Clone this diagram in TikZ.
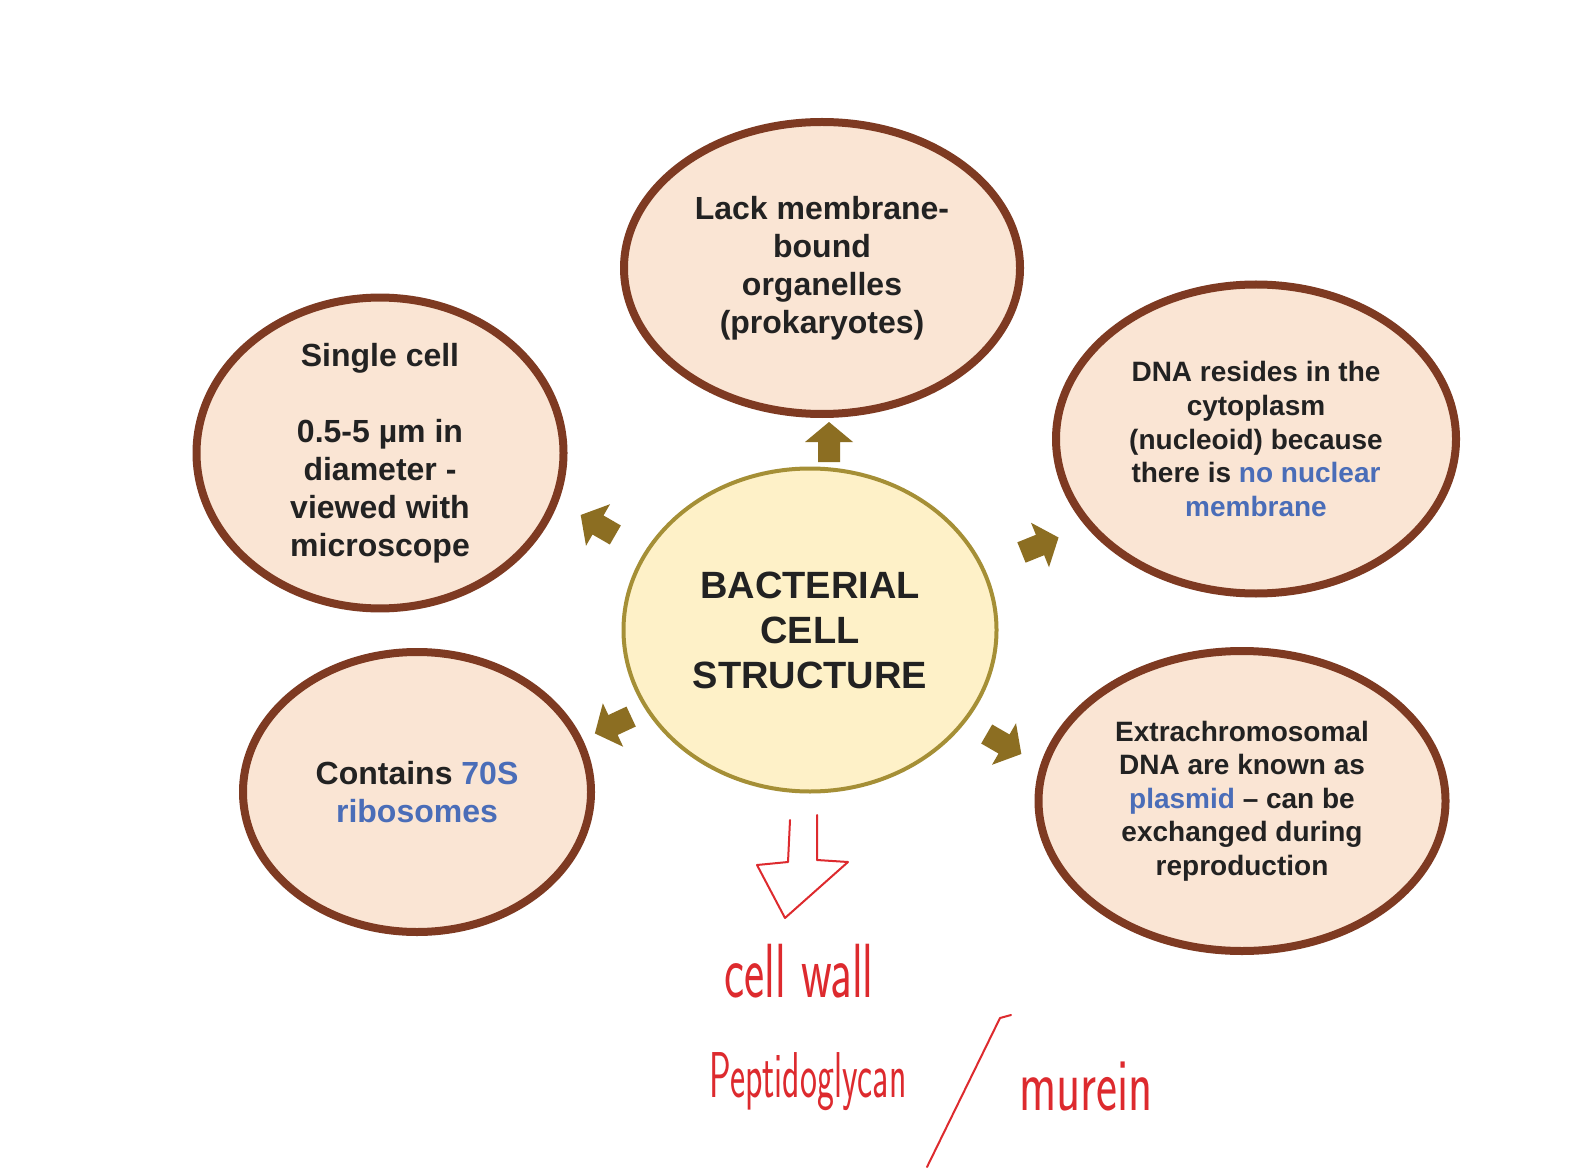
\documentclass[tikz,border=0pt]{standalone}
\usepackage{fontspec}
\setmainfont{Liberation Sans}
\usetikzlibrary{shapes.geometric}
\definecolor{peach}{HTML}{FAE5D4}
\definecolor{rim}{HTML}{7E3A22}
\definecolor{cream}{HTML}{FEF1C8}
\definecolor{olive}{HTML}{A58F36}
\definecolor{arrowc}{HTML}{8C6E22}
\definecolor{bluetxt}{HTML}{4A6DB8}
\definecolor{pen}{HTML}{DD2A2E}
\definecolor{ink}{HTML}{222222}
\newcommand{\hl}[1]{\textcolor{bluetxt}{#1}}
\begin{document}
\begin{tikzpicture}[x=0.5pt,y=-0.5pt,
  bubble/.style={ellipse, draw=rim, line width=4pt, fill=peach, inner sep=0pt,
    align=center, text=ink},
  bigtxt/.style={font=\fontsize{16}{19}\selectfont\bfseries},
  smalltxt/.style={font=\fontsize{14}{16.8}\selectfont\bfseries},
  hub/.style={ellipse, draw=olive, line width=2pt, fill=cream, inner sep=0pt,
    align=center, text=ink, font=\fontsize{19}{22.5}\selectfont\bfseries},
  hand/.style={text=pen, anchor=base, inner sep=0pt},
  penline/.style={draw=pen, line width=1pt, line join=round, line cap=round},
  blockarr/.pic={\fill[arrowc] (-20,-11) -- (0,-11) -- (0,-24) -- (20,0) -- (0,24) -- (0,11) -- (-20,11) -- cycle;}
]
\useasboundingbox[fill=white] (0,0) rectangle (1582,1170);

% outer bubbles
\node[bubble, bigtxt, minimum width=198pt, minimum height=146pt] (top) at (822,268)
  {Lack membrane-\\bound\\organelles\\(prokaryotes)};
\node[bubble, bigtxt, minimum width=183.5pt, minimum height=144.5pt] (lt) at (380,453)
  {Single cell\\\mbox{}\\0.5-5 µm in\\diameter -\\viewed with\\microscope};
\node[bubble, smalltxt, minimum width=200pt, minimum height=154.5pt] (rt) at (1256,439)
  {DNA resides in the\\cytoplasm\\(nucleoid) because\\there is \hl{no nuclear}\\\hl{membrane}};
\node[bubble, bigtxt, minimum width=174pt, minimum height=140pt] (lb) at (417,792)
  {Contains \hl{70S}\\\hl{ribosomes}};
\node[bubble, smalltxt, minimum width=203.5pt, minimum height=150pt] (rb) at (1242,801)
  {Extrachromosomal\\DNA are known as\\\hl{plasmid} – can be\\exchanged during\\reproduction};

% hub
\node[hub, minimum width=186.5pt, minimum height=161.5pt] (hub) at (810,630)
  {BACTERIAL\\CELL\\STRUCTURE};

% block arrows
\pic[rotate=90] at (829,442) {blockarr};
\pic[rotate=150] at (598,525) {blockarr};
\pic[rotate=22] at (1040,545) {blockarr};
\pic[rotate=205] at (613,725) {blockarr};
\pic[rotate=-30] at (1004,744) {blockarr};

% hand-drawn hollow arrow
\draw[penline] (790,820) -- (788,862) -- (757,865) -- (785,918) -- (848,862) -- (817,860) -- (817,815);

% handwriting
\node[hand, font=\sffamily\fontsize{24}{28}\selectfont\addfontfeature{LetterSpace=12}] (cw) at (799,997) {\scalebox{1}[1.6]{cell wall}};
\node[hand, font=\sffamily\fontsize{18}{22}\selectfont\addfontfeature{LetterSpace=3}] (pg) at (808,1097) {\scalebox{1}[1.8]{Peptidoglycan}};
\node[hand, font=\sffamily\fontsize{25}{30}\selectfont\addfontfeature{LetterSpace=8}] (mu) at (1086,1110) {\scalebox{1}[1.5]{murein}};
\coordinate (s1) at (927,1167);
\coordinate (s2) at (1000,1018);
\coordinate (s3) at (1011,1015);
\draw[penline] (s1) -- (s2) -- (s3);
\end{tikzpicture}
\end{document}
